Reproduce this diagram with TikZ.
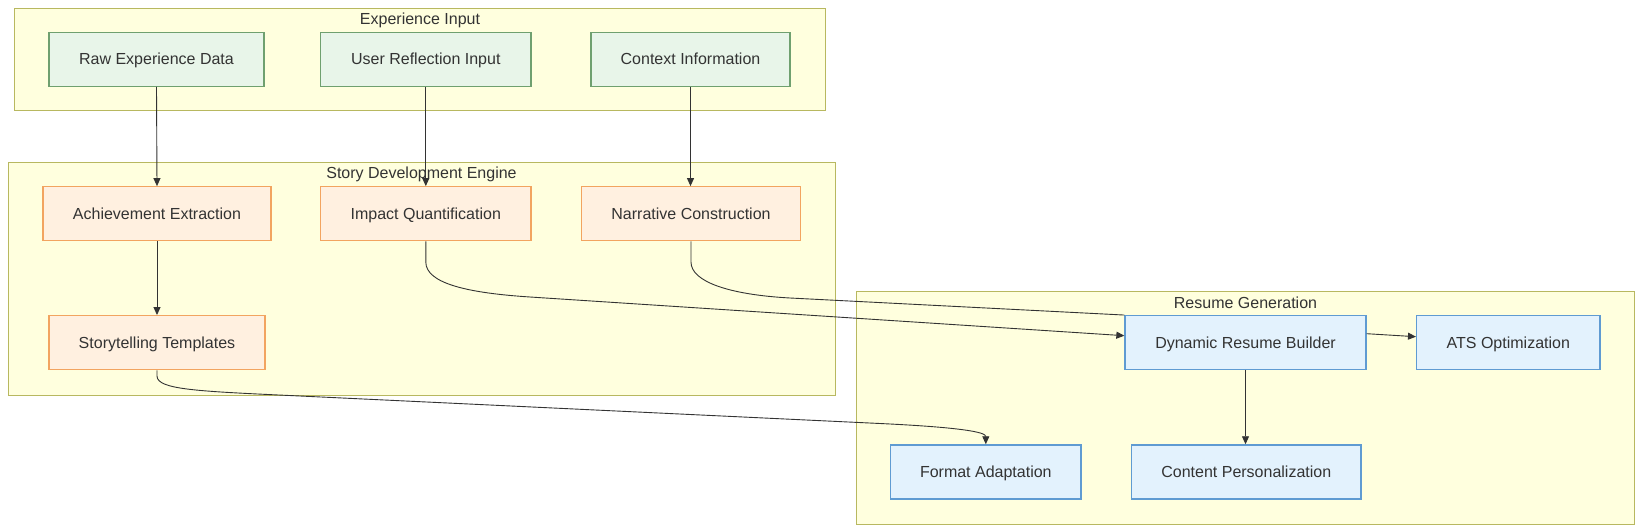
\documentclass[tikz,border=0pt]{standalone}
\usepackage{fontspec}
\setmainfont{Liberation Sans}
\usetikzlibrary{arrows.meta}
\definecolor{clfill}{HTML}{FFFFDE}
\definecolor{cldraw}{HTML}{B8B860}
\definecolor{gfill}{HTML}{E8F5E9}
\definecolor{gdraw}{HTML}{6FA06F}
\definecolor{ofill}{HTML}{FFF0E0}
\definecolor{odraw}{HTML}{F2A460}
\definecolor{bfill}{HTML}{E3F2FD}
\definecolor{bdraw}{HTML}{5F9BD2}
\definecolor{txt}{HTML}{333333}
\tikzset{
  cluster/.style={fill=clfill, draw=cldraw, line width=1pt},
  ctitle/.style={text=txt, font=\fontsize{16}{19}\selectfont, inner sep=0pt, text height=12pt, text depth=0.6pt},
  box/.style={rectangle, minimum height=54pt, inner sep=0pt, line width=1.3pt, text=txt, font=\fontsize{16}{19}\selectfont, text height=12pt, text depth=0.6pt},
  gbox/.style={box, fill=gfill, draw=gdraw},
  obox/.style={box, fill=ofill, draw=odraw},
  bbox/.style={box, fill=bfill, draw=bdraw},
  arr/.style={draw=txt, line width=0.9pt, -{Triangle[length=8pt,width=7pt]}},
  plain/.style={draw=txt, line width=0.9pt}
}
\begin{document}
\begin{tikzpicture}[x=1pt,y=-1pt]
\useasboundingbox (0,0) rectangle (1643,532);
% clusters
\draw[cluster] (14.7,8.4) rectangle (825.7,111);
\node[ctitle] (t1) at (420,19) {Experience Input};
\draw[cluster] (8.4,162.4) rectangle (835,395);
\node[ctitle] (t2) at (421.5,173) {Story Development Engine};
\draw[cluster] (856,291) rectangle (1634.6,524);
\node[ctitle] (t3) at (1245.5,303) {Resume Generation};
% nodes
\node[gbox, minimum width=215pt] (raw) at (156.5,59.3) {Raw Experience Data};
\node[gbox, minimum width=210.4pt] (usr) at (425.8,59.3) {User Reflection Input};
\node[gbox, minimum width=199pt] (ctx) at (690.5,59.3) {Context Information};
\node[obox, minimum width=228pt] (ach) at (157,213.8) {Achievement Extraction};
\node[obox, minimum width=210.4pt] (imp) at (425.8,213.8) {Impact Quantification};
\node[obox, minimum width=219pt] (nar) at (691,213.8) {Narrative Construction};
\node[obox, minimum width=216pt] (sto) at (157,342.7) {Storytelling Templates};
\node[bbox, minimum width=241pt] (dyn) at (1245.5,342.7) {Dynamic Resume Builder};
\node[bbox, minimum width=183.4pt] (ats) at (1508.3,342.7) {ATS Optimization};
\node[bbox, minimum width=190.4pt] (fmt) at (985.8,471.9) {Format Adaptation};
\node[bbox, minimum width=229.4pt] (cnt) at (1246.3,471.9) {Content Personalization};
% edges
\draw[arr] (raw.south) -- (ach.north);
\draw[arr] (usr.south) -- (imp.north);
\draw[arr] (ctx.south) -- (ctx.south |- nar.north);
\draw[arr] (ach.south) -- (ach.south |- sto.north);
\draw[arr] (imp.south) -- (425.8,262) .. controls (425.8,284) and (470,293.1) .. (530,297) -- ([yshift=7pt]dyn.west);
\draw[plain] (nar.south) -- (691,262) .. controls (691,282) and (730,294.7) .. (790,298) -- (dyn.north west);
\draw[arr] (sto.south) -- (157,376) .. controls (157,390) and (200,391.3) .. (300,396) -- (880,423.5) .. controls (960,427.3) and (985.8,432) .. (fmt.north);
\draw[arr] ([yshift=9pt]dyn.east) -- ([yshift=6pt]ats.west);
\draw[arr] (dyn.south) -- (dyn.south |- cnt.north);
\end{tikzpicture}
\end{document}
